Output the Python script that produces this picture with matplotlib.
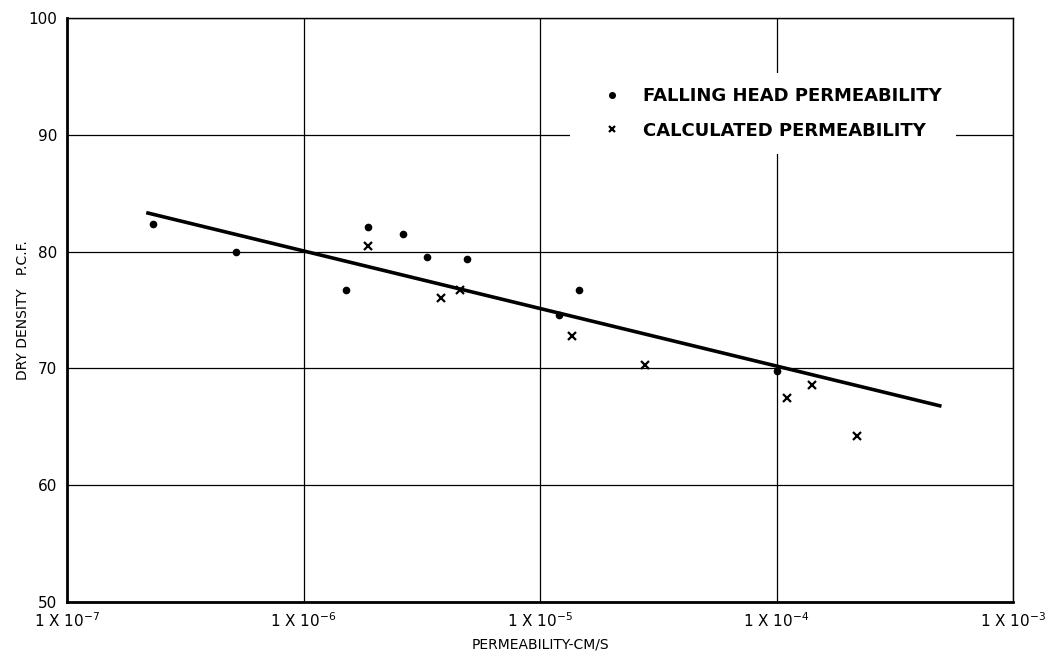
import matplotlib.pyplot as plt

# falling head permeability (dots)
fh_perm = [2.32e-7, 5.17e-7, 1.51e-6, 1.88e-6, 2.63e-6, 3.32e-6, 4.90e-6, 1.20e-5, 1.46e-5, 1.0e-4]
fh_dens = [82.4, 80.0, 76.75, 82.1, 81.5, 79.5, 79.4, 74.6, 76.7, 69.8]

# calculated permeability (x)
calc_perm = [1.88e-6, 3.80e-6, 4.59e-6, 1.36e-5, 2.79e-5, 1.11e-4, 1.41e-4, 2.20e-4]
calc_dens = [80.5, 76.0, 76.7, 72.8, 70.3, 67.5, 68.6, 64.2]

# fitted line end points
fit_perm = [2.2e-7, 4.9e-4]
fit_dens = [83.3, 66.8]

x_ticks = [1e-7, 1e-6, 1e-5, 1e-4, 1e-3]
x_labels = ["1 X 10$^{-7}$", "1 X 10$^{-6}$", "1 X 10$^{-5}$", "1 X 10$^{-4}$", "1 X 10$^{-3}$"]
y_ticks = [50, 60, 70, 80, 90, 100]


def draw():
    fig = plt.figure(figsize=(10.56, 6.57), dpi=100)
    ax = fig.add_axes([67 / 1056, 1 - 602 / 657, 946 / 1056, 584 / 657])
    ax.set_xscale("log")
    ax.set_xlim(1e-7, 1e-3)
    ax.set_ylim(50, 100)

    ax.set_xticks(x_ticks)
    ax.set_xticklabels(x_labels, fontsize=11)
    ax.xaxis.set_minor_locator(plt.NullLocator())
    ax.set_yticks(y_ticks)
    ax.set_yticklabels([str(v) for v in y_ticks], fontsize=11)
    ax.tick_params(length=0, pad=7)
    ax.grid(True, color="black", linewidth=0.9)
    ax.set_axisbelow(True)

    for side in ["left", "bottom"]:
        ax.spines[side].set_linewidth(2.0)
    for side in ["top", "right"]:
        ax.spines[side].set_linewidth(1.0)

    ax.plot(fit_perm, fit_dens, color="black", linewidth=2.6, zorder=3)
    ax.plot(fh_perm, fh_dens, "o", color="black", markersize=4.5, zorder=4,
            label="FALLING HEAD PERMEABILITY")
    ax.plot(calc_perm, calc_dens, "x", color="black", markersize=5.5, mew=1.6,
            zorder=4, label="CALCULATED PERMEABILITY")

    leg = ax.legend(loc="upper left", bbox_to_anchor=(570 / 1056, 1 - 73 / 657),
                    bbox_transform=fig.transFigure, borderaxespad=0,
                    frameon=True, fancybox=False, edgecolor="white", framealpha=1.0,
                    handlelength=3.0, handletextpad=0.25, labelspacing=0.9,
                    markerscale=0.9, borderpad=0.8,
                    prop={"size": 13, "weight": "bold"})
    leg.get_frame().set_linewidth(0)

    ax.set_ylabel("DRY DENSITY   P.C.F.", fontsize=10)
    ax.yaxis.set_label_coords(-0.039, 0.5)
    ax.set_xlabel("PERMEABILITY-CM/S", fontsize=10, labelpad=5)

    fig.savefig("out.png", dpi=100)


def main():
    draw()


if __name__ == "__main__":
    main()
